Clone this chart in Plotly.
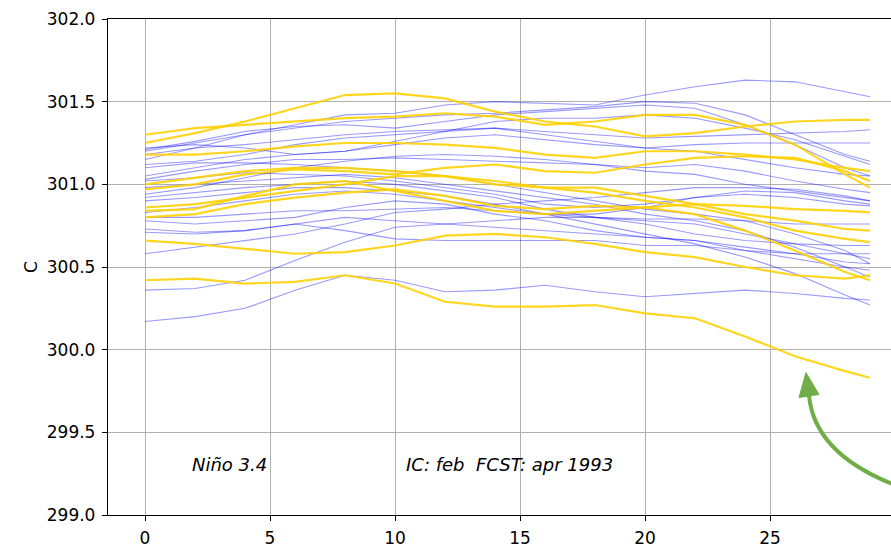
import plotly.graph_objects as go

# Forecast lead (months) at which each member is sampled
LEAD = [0, 2, 4, 6, 8, 10, 12, 14, 16, 18, 20, 22, 24, 26, 28, 29]

# Ensemble A members (thin blue), Nino 3.4 SST in C
blue_members = [
    [301.20, 301.25, 301.30, 301.36, 301.42, 301.43, 301.48, 301.50, 301.49, 301.48, 301.54, 301.59, 301.63, 301.62, 301.56, 301.53],
    [301.15, 301.22, 301.30, 301.34, 301.38, 301.40, 301.42, 301.43, 301.45, 301.47, 301.50, 301.49, 301.42, 301.30, 301.18, 301.14],
    [301.21, 301.26, 301.32, 301.35, 301.36, 301.34, 301.38, 301.42, 301.44, 301.46, 301.48, 301.46, 301.36, 301.24, 301.10, 301.05],
    [301.12, 301.14, 301.18, 301.24, 301.28, 301.30, 301.32, 301.34, 301.32, 301.30, 301.28, 301.29, 301.30, 301.31, 301.32, 301.33],
    [301.05, 301.10, 301.15, 301.18, 301.20, 301.24, 301.28, 301.30, 301.27, 301.24, 301.22, 301.24, 301.25, 301.25, 301.25, 301.25],
    [301.03, 301.08, 301.12, 301.15, 301.15, 301.16, 301.15, 301.14, 301.13, 301.12, 301.10, 301.12, 301.08, 301.02, 300.97, 300.95],
    [300.94, 300.98, 301.04, 301.10, 301.14, 301.17, 301.18, 301.17, 301.15, 301.12, 301.08, 301.06, 301.00, 300.96, 300.92, 300.90],
    [301.02, 301.04, 301.07, 301.06, 301.05, 301.02, 300.98, 300.94, 300.88, 300.86, 300.88, 300.92, 300.96, 300.95, 300.90, 300.88],
    [300.92, 300.95, 300.98, 301.00, 301.02, 301.00, 300.96, 300.92, 300.85, 300.80, 300.78, 300.76, 300.70, 300.64, 300.58, 300.55],
    [300.83, 300.86, 300.90, 300.94, 300.96, 300.94, 300.90, 300.86, 300.82, 300.82, 300.86, 300.92, 300.94, 300.92, 300.88, 300.87],
    [300.80, 300.80, 300.82, 300.84, 300.84, 300.85, 300.86, 300.84, 300.82, 300.80, 300.76, 300.70, 300.66, 300.64, 300.63, 300.63],
    [300.78, 300.76, 300.78, 300.80, 300.86, 300.90, 300.88, 300.82, 300.78, 300.72, 300.68, 300.66, 300.62, 300.58, 300.53, 300.52],
    [300.73, 300.71, 300.72, 300.76, 300.80, 300.78, 300.76, 300.74, 300.72, 300.70, 300.68, 300.66, 300.60, 300.55, 300.50, 300.48],
    [300.71, 300.70, 300.72, 300.76, 300.72, 300.67, 300.66, 300.66, 300.66, 300.66, 300.63, 300.63, 300.60, 300.58, 300.58, 300.58],
    [300.58, 300.62, 300.66, 300.70, 300.76, 300.83, 300.85, 300.88, 300.90, 300.92, 300.95, 300.98, 300.98, 300.97, 300.93, 300.90],
    [300.36, 300.37, 300.42, 300.54, 300.65, 300.74, 300.76, 300.78, 300.80, 300.80, 300.79, 300.79, 300.78, 300.76, 300.76, 300.76],
    [300.17, 300.20, 300.25, 300.36, 300.45, 300.42, 300.35, 300.36, 300.39, 300.35, 300.32, 300.34, 300.36, 300.34, 300.31, 300.30],
    [300.90, 300.92, 300.95, 300.98, 300.98, 300.96, 300.93, 300.88, 300.82, 300.76, 300.70, 300.64, 300.56, 300.46, 300.33, 300.27],
    [301.18, 301.22, 301.24, 301.27, 301.30, 301.32, 301.33, 301.34, 301.30, 301.26, 301.22, 301.20, 301.15, 301.10, 301.06, 301.05],
    [301.10, 301.13, 301.13, 301.12, 301.10, 301.08, 301.05, 301.00, 300.95, 300.90, 300.85, 300.82, 300.78, 300.70, 300.60, 300.52],
    [300.98, 301.00, 301.02, 301.04, 301.06, 301.04, 301.00, 300.96, 300.92, 300.88, 300.82, 300.78, 300.72, 300.62, 300.50, 300.44],
    [301.22, 301.24, 301.22, 301.18, 301.20, 301.26, 301.32, 301.38, 301.40, 301.40, 301.42, 301.40, 301.34, 301.27, 301.17, 301.12],
]

# Ensemble B members (thick gold)
gold_members = [
    [301.25, 301.31, 301.38, 301.46, 301.54, 301.55, 301.52, 301.44, 301.38, 301.35, 301.29, 301.31, 301.35, 301.38, 301.39, 301.39],
    [301.30, 301.34, 301.36, 301.38, 301.40, 301.41, 301.43, 301.41, 301.36, 301.38, 301.42, 301.42, 301.36, 301.24, 301.06, 300.98],
    [301.18, 301.18, 301.20, 301.23, 301.25, 301.25, 301.24, 301.22, 301.18, 301.16, 301.20, 301.20, 301.18, 301.15, 301.10, 301.08],
    [301.00, 301.04, 301.08, 301.10, 301.10, 301.08, 301.05, 301.00, 300.98, 300.98, 300.93, 300.88, 300.82, 300.78, 300.73, 300.72],
    [300.97, 301.00, 301.06, 301.09, 301.08, 301.06, 301.10, 301.12, 301.08, 301.07, 301.12, 301.16, 301.17, 301.16, 301.08, 301.02],
    [300.86, 300.88, 300.92, 300.96, 301.00, 301.05, 301.05, 301.02, 300.98, 300.95, 300.90, 300.86, 300.80, 300.72, 300.67, 300.65],
    [300.84, 300.85, 300.93, 301.00, 301.02, 300.96, 300.90, 300.84, 300.82, 300.84, 300.86, 300.88, 300.87, 300.85, 300.84, 300.83],
    [300.80, 300.82, 300.88, 300.92, 300.95, 300.97, 300.93, 300.87, 300.85, 300.87, 300.86, 300.82, 300.72, 300.60, 300.47, 300.42],
    [300.66, 300.64, 300.61, 300.58, 300.59, 300.63, 300.69, 300.70, 300.68, 300.64, 300.59, 300.56, 300.50, 300.45, 300.43, 300.45],
    [300.42, 300.43, 300.40, 300.41, 300.45, 300.40, 300.29, 300.26, 300.26, 300.27, 300.22, 300.19, 300.08, 299.96, 299.87, 299.83],
]

X_TICKS = [0, 5, 10, 15, 20, 25]
Y_TICKS = [299.0, 299.5, 300.0, 300.5, 301.0, 301.5, 302.0]
REGION_LABEL = "Niño 3.4"
CASE_LABEL = "IC: feb\u00a0\u00a0FCST: apr 1993"

FONT = "DejaVu Sans"
BLUE = "rgba(0,0,255,0.4)"
GOLD = "rgba(255,208,0,0.88)"
GREEN = "#70ad47"

fig = go.Figure()

for member in blue_members:
    fig.add_trace(go.Scatter(x=LEAD, y=member, mode="lines",
                             line=dict(color=BLUE, width=1.1),
                             showlegend=False, hoverinfo="skip"))

for member in gold_members:
    fig.add_trace(go.Scatter(x=LEAD, y=member, mode="lines",
                             line=dict(color=GOLD, width=2.2),
                             showlegend=False, hoverinfo="skip"))

# Text labels inside the axes
fig.add_annotation(x=1.8, y=299.307, text=f"<i>{REGION_LABEL}</i>", showarrow=False,
                   xanchor="left", yanchor="middle",
                   font=dict(family=FONT, size=18, color="black"))
fig.add_annotation(x=10.36, y=299.307, text=f"<i>{CASE_LABEL}</i>", showarrow=False,
                   xanchor="left", yanchor="middle",
                   font=dict(family=FONT, size=18, color="black"))

# Curved green pointer towards the coldest member
fig.add_shape(type="path", xref="x", yref="y",
              path="M 26.56,299.723 Q 26.8,299.331 30.8,299.139",
              line=dict(color=GREEN, width=4))
fig.add_shape(type="path", xref="x", yref="y",
              path="M 26.44,299.861 L 26.16,299.711 L 26.96,299.729 Z",
              fillcolor=GREEN, line=dict(color=GREEN, width=1))

axis_common = dict(
    showgrid=True, gridcolor="#b0b0b0", gridwidth=1.4,
    showline=True, linecolor="black", linewidth=1.3,
    ticks="outside", ticklen=5, tickwidth=1.3, tickcolor="black",
    zeroline=False,
    tickfont=dict(family=FONT, size=17, color="black"),
)

fig.update_xaxes(range=[-1.48, 29.84], tickvals=X_TICKS, mirror=True,
                 ticklabelstandoff=2, **axis_common)
fig.update_yaxes(range=[299.0, 302.0], tickvals=Y_TICKS, tickformat=".1f",
                 ticklabelstandoff=3,
                 title=dict(text="C", font=dict(family=FONT, size=17, color="black"),
                            standoff=4),
                 **axis_common)

fig.update_layout(
    width=891, height=548,
    margin=dict(l=108, r=0, t=19, b=31),
    paper_bgcolor="white", plot_bgcolor="white",
    showlegend=False,
)

fig.write_html("out.html")
